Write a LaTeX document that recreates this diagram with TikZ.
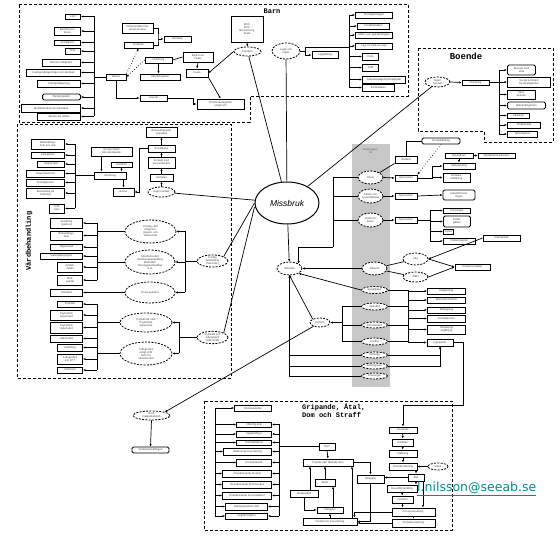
\documentclass[tikz,border=0pt]{standalone}
\usepackage{fontspec}
\setmainfont{Liberation Sans}
\newfontfamily\monofont{Liberation Mono}
\newfontfamily\mailfont{DejaVu Sans}
\usepackage{xcolor}
\usetikzlibrary{arrows.meta,positioning,calc,shapes.geometric}
\definecolor{mailcol}{RGB}{0,140,140}
\newcommand\boxfont{\fontsize{2.7}{3}\selectfont}

\begin{document}
\begin{tikzpicture}[x=1pt,y=-1pt,>={Latex[length=2.4pt,width=2.2pt]},
  bx/.style={draw, line width=0.95pt, inner sep=0.2pt, font=\boxfont, text=black!75, align=center},
  del/.style={draw, ellipse, fill=white, dash pattern=on 2pt off 1.3pt, line width=0.8pt, inner sep=0pt, font=\boxfont, text=black!75, align=center},
  frm/.style={dash pattern=on 3pt off 2pt, line width=0.9pt},
  ln/.style={line width=0.7pt},
  ttl/.style={font=\monofont\bfseries\fontsize{7}{8}\selectfont}]
  \useasboundingbox (0,0) rectangle (560,545);

  % frames
  \draw[frm] (19,4) -- (408,4) -- (408,96) -- (250,96) -- (250,122) -- (19,122) -- cycle;
  \draw[frm] (418,48) -- (553,48) -- (553,142) -- (484,142) -- (484,131) -- (418,131) -- cycle;
  \draw[frm] (17,124) rectangle (231,378);
  \draw[frm] (204,401) rectangle (452,530);
  \fill[black!22] (352,144) rectangle (390,387);

  \node[ttl] (barnT) at (272,11) {Barn};
  \node[ttl, font=\monofont\bfseries\fontsize{9}{10}\selectfont] (boendeT) at (466,56) {Boende};
  \node[ttl, rotate=90] (vardT) at (29,241) {Vårdbehandling};
  \node[ttl, anchor=north west, align=left, inner sep=0pt] (gripT) at (302,404) {Gripande, Åtal,\\Dom och Straff};
  \node[font=\boxfont, text=black!60, align=center] (foreT) at (370.5,151) {Förebyggan-\\de};

  % center
  \node[draw, ellipse, line width=1pt, minimum width=64, minimum height=42,
        font=\itshape\fontsize{8.5}{10}\selectfont] (miss) at (287,203) {Missbruk};

  % ---- Barn
  \coordinate (blbus) at (94,16.5);
  \draw[ln] (blbus) -- (94,116.5);
  \foreach \n/\y/\w/\h/\r/\t in {1/16.5/15/5/0/LVU, 2/31/26/8/0/{Barnkonven-\\tionen},
      3/42.5/26/5/0/Socialtjänst, 4/51/15/6/0/HSL, 5/62.5/38/7/0/Barnets rättigheter,
      6/72.5/54/7/0/Familjerättsliga frågor och vårdnad, 7/83.5/43/7/0/Familjerådgivning,
      8/97/38/6/1.5/Barnpsykiatrin, 9/108/59/8/0/Skolhälsovård och elevhälsa,
      10/116.5/43/7/0/Skolsocialt arbete}
  {\node[bx, rounded corners=\r, anchor=east, minimum width=\w, minimum height=\h] (bl\n) at (81,\y) {\t};
   \draw[ln,->] (blbus |- bl\n.east) -- (bl\n.east);}

  \node[bx, minimum width=20, minimum height=6] (barnet) at (116,77) {Barnet};
  \draw[ln] (blbus |- barnet.west) -- (barnet.west);
  \node[bx, minimum width=31, minimum height=10] (oros) at (137.5,28) {Orosanmälan från\\annan instans};
  \node[bx, minimum width=29, minimum height=6] (ansok) at (138.5,45) {Ansökan};
  \node[bx, minimum width=27, minimum height=6] (anm) at (177.5,39) {Anmälan};
  \coordinate (bbr) at (158,39);
  \draw[ln] (oros.east) -| (bbr) |- (ansok.east);
  \draw[ln,->] (bbr) -- (anm.west);
  \node[bx, minimum width=27, minimum height=6] (utr) at (158.5,60) {Utredning};
  \node[bx, minimum width=40, minimum height=6] (utrplan) at (160,77) {Utredningsplan};
  \draw[ln,->] (utr.south) -- (utr.south |- utrplan.north);
  \draw[ln,dotted,->] (barnet.north east) -- (ansok.south);
  \draw[ln,dotted,->] (utr.west) -- (barnet.east);
  \node[bx, minimum width=30, minimum height=10] (beslut) at (198,57) {Beslut om\\insats};
  \draw[ln] (utr.east) -- (beslut.west);
  \node[bx, minimum width=22, minimum height=8] (insats) at (197,73) {Insats};
  \draw[ln,->] (beslut.south) -- (insats.north);
  \node[bx, minimum width=27, minimum height=6] (journal) at (153.5,98) {Journal};
  \draw[ln,->] (barnet.south) |- (journal.west);
  \node[bx, minimum width=47, minimum height=10] (omh) at (220.5,104) {Omhändertagande\\enligt LVU};
  \draw[ln,->] (journal.east) -- ++(26,0) |- (omh.west);
  \draw[ln,->] (insats.south east) -- (omh.north);
  \node[bx, minimum width=32, minimum height=26] (mvc) at (247,29) {MVC\\BVC\\Barnomsorg\\Skola};
  \node[del, minimum width=27, minimum height=9] (e1) at (247.5,51.5) {Familjen};
  \draw[ln,->] (mvc.south) -- (e1.north);
  \draw[ln,->] (e1.west) -- (insats.east);
  \node[del, minimum width=28, minimum height=16] (e2) at (286,51) {Lagar och\\regler};
  \node[bx, minimum width=26, minimum height=7] (lag) at (325,55) {Lagstiftning};
  \coordinate (brbus) at (349,15);
  \draw[ln] (brbus) -- (349,88);
  \coordinate (e2r) at (305,51);
  \draw[ln] (e2.east) -- (e2r) (305,47) -- (305,55);
  \draw[ln] (305,47) -- (brbus |- 0,47);
  \draw[ln,->] (305,55) -- (lag.west);
  \foreach \n/\x/\y/\w/\h/\t in {1/355/15/37/6/Socialtjänstlagen, 2/357/26/32/6/Föräldrabalken,
      3/355/35/37/6/Hälso- och sjukvårdslagen, 4/355/46/37/6/Lag om vård av unga,
      5/362/56.5/16/7/Polis, 6/362/67.5/16/7/LVM, 7/362/79.5/43/7/{Sekretesslagen/tystnadsplikt},
      8/362/87.5/32/7/Brottsbalken}
  {\node[bx, anchor=west, minimum width=\w, minimum height=\h] (br\n) at (\x,\y) {\t};
   \draw[ln,->] (brbus |- br\n.west) -- (br\n.west);}
  \draw[ln] (e1) -- (miss);
  \draw[ln] (e2) -- (miss);

  % ---- Boende
  \node[del, minimum width=25, minimum height=10] (boe) at (437.5,82) {Ingen\\bostad};
  \node[bx, minimum width=27, minimum height=5] (boutr) at (475.5,82.5) {Utredning};
  \coordinate (bobus) at (499,70);
  \draw[ln] (bobus) -- (499,134);
  \draw[ln,->] (boe.east) -- (boutr.west);
  \draw[ln] (boutr.east) -- (bobus |- boutr.east);
  \foreach \n/\y/\w/\h/\r/\t in {1/70/28/10/1.5/{Boende med\\stöd}, 2/82/43/10/0/{Socialt kontrakt/\\försökslägenhet},
      3/94.5/28/9/0/{Akut-\\boende}, 4/105.5/38/7/1.5/Behandlingshem, 5/115.5/22/5/0/Härbärge,
      6/125/33/6/0/Stödboende, 7/134/30/6/0/Halvvägshus}
  {\node[bx, rounded corners=\r, anchor=west, minimum width=\w, minimum height=\h] (bo\n) at (507,\y) {\t};
   \draw[ln,->] (bobus |- bo\n.west) -- (bo\n.west);}
  \draw[ln] (miss) -- (boe);
  \node[bx, rounded corners=1.5, minimum width=38, minimum height=6] (bidrag) at (441,141) {Bostadsbidrag};
  \node[bx, minimum width=22, minimum height=7] (bist) at (406,159.5) {Bistånd};
  \draw[ln] (bidrag.west) -| (bist.north);

  % ---- Förebyggande
  \node[del, minimum width=25, minimum height=13] (fsk) at (370.5,177.5) {Skola};
  \node[del, minimum width=25, minimum height=14] (farb) at (370.5,196) {Arbete och\\sysselsättning};
  \node[del, minimum width=25, minimum height=14] (ffri) at (370.5,220) {Fritid och\\kultur};
  \node[del, minimum width=25, minimum height=13] (indiv) at (289.5,268.5) {Individen};
  \draw[ln,->] (miss) -- (indiv);
  \draw[ln] (333,177.5) -- (333,247);
  \draw[ln,->] (333,247) -| (indiv.north east);
  \foreach \e in {fsk,farb,ffri} \draw[ln] (333,0 |- \e.west) -- (\e.west);
  \draw[ln] (bist.south west) -- (fsk.north east);
  \foreach \n/\e/\y in {1/fsk/178, 2/farb/196, 3/ffri/220}
  {\node[bx, minimum width=22, minimum height=6] (fs\n) at (406,\y) {Samverkan};
   \draw[ln,->] (\e.east) -- (fs\n.west);}
  \node[bx, minimum width=28, minimum height=5] (fe1) at (459,155.5) {Elevhälsan};
  \node[bx, minimum width=37, minimum height=5] (fe4) at (496.5,155.5) {Skolsköterska/kurator};
  \node[bx, minimum width=32, minimum height=6] (fe2) at (459,166) {Skolpsykolog};
  \node[bx, minimum width=27, minimum height=9] (fe3) at (456.5,177.5) {Föräldra-\\utbildning};
  \draw[ln,->] (fe1.east) -- (fe4.west);
  \draw[ln,->] (fe1.south) -- (fe2.north);
  \draw[ln] (fs1.east) -- (432,178) -- (432,166);
  \draw[ln,->] (432,166) -- (fe2.west);
  \draw[ln,->] (432,177.5) -- (fe3.west);
  \draw[ln,dotted,->] (bidrag.south) -- (fs1.north east);
  \node[bx, rounded corners=1.5, minimum width=32, minimum height=10] (fa1) at (459,195) {Arbetsförmed-\\lingen};
  \draw[ln,->] (fs2.east) -- (fa1.west);
  \draw[ln] (fs3.east) -- (430,220) (430,210.5) -- (430,241);
  \foreach \n/\y/\w/\h/\r/\t in {1/210.5/27/5/0/Föreningar, 2/221.5/27/11/1.5/{Fritids-\\gårdar},
      3/231.5/10/5/0/Kyrka, 4/241/32/6/0/Fältassistenter}
  {\node[bx, rounded corners=\r, anchor=west, minimum width=\w, minimum height=\h] (fk\n) at (443,\y) {\t};
   \draw[ln,->] (430,0 |- fk\n.west) -- (fk\n.west);}
  \node[bx, minimum width=37, minimum height=6] (kamrat) at (501.5,238) {Kamratstöd};
  \node[del, minimum width=25, minimum height=13] (fnat) at (374.5,268.5) {Nätverk};
  \node[del, minimum width=25, minimum height=12] (van) at (415.5,259) {Vän};
  \node[del, minimum width=25, minimum height=10] (slakt) at (415.5,277) {Släkt};
  \node[bx, minimum width=35, minimum height=6] (privat) at (472.5,267) {Privata kontakter};
  \draw[ln] (fnat) -- (van);
  \draw[ln] (fnat) -- (slakt);
  \draw[ln,->] (kamrat.west) -- (van.east);
  \draw[ln,->] (van.east) -- (privat.west);
  \draw[ln,->] (slakt.east) -- (privat.west);
  \draw[ln,->] (fnat.west) -- (indiv.east);
  \foreach \n/\y/\h/\t in {soc/290/7/Socialtjänst, 2/306.5/7/Sjukvård, 3/325/6/Kriminalvård,
      4/341.5/7/Frivård, 5/355/6/Anhöriga, 6/366/6/Arbetsgivare, 7/376/6/Föreningar}
    \node[del, minimum width=26, minimum height=\h] (f\n) at (374.5,\y) {\t};
  \draw[ln,->] (fsoc.west) -- (indiv.south east);
  \coordinate (fbus) at (408,290);
  \draw[ln] (fbus) -- (408,342.5);
  \foreach \e in {fsoc,f2,f3,f4} \draw[ln] (\e.east) -- (fbus |- \e.east);
  \foreach \n/\y/\h/\t in {1/291/6/Rådgivning, 2/300/6/Motivationsarbete, 3/310/6/Mottagning,
      4/318.5/7/Kontaktperson, 5/329.5/9/{Tillnyktring/\\avgiftning}}
  {\node[bx, anchor=west, minimum width=38, minimum height=\h] (fb\n) at (427,\y) {\t};
   \draw[ln,->] (fbus |- fb\n.west) -- (fb\n.west);}
  \node[bx, minimum width=26, minimum height=7] (fpol) at (440,342.5) {Ingripande};
  \draw[ln,->] (fbus |- fpol.west) -- (fpol.west);
  \node[del, minimum width=20, minimum height=9] (pol) at (320,322.5) {Polisen};
  \draw[ln] (342,306.5) -- (342,341.5);
  \draw[ln,->] (342,322.5) -- (pol.east);
  \foreach \e in {f2,f3,f4} \draw[ln] (342,0 |- \e.west) -- (\e.west);
  \draw[ln,->] (pol.north west) -- (indiv.south);
  \draw[ln,->] (f5.west) -| (indiv.south);
  \draw[ln] (f6.west) -| (indiv.south);
  \draw[ln] (f7.west) -| (indiv.south);
  \draw[ln,->] (f5.east) -| (fpol.south);
  \draw[ln] (f6.east) -| (fpol.south);

  % ---- Vårdbehandling
  \coordinate (vlbus) at (75,144);
  \draw[ln] (vlbus) -- (75,208.5);
  \foreach \n/\y/\w/\h/\t in {1/144/33/10/{Behandlings-\\hem enl. SoL}, 2/155/33/6/Familjehem,
      3/164/27/6/Öppenvård, 4/173.5/38/7/Dagverksamhet, 5/182.5/38/7/Kontaktperson,
      6/193/38/10/{Behandling på\\institution}, 7/208.5/15/9/{LVM-\\hem}}
  {\node[bx, anchor=east, minimum width=\w, minimum height=\h] (vl\n) at (65,\y) {\t};
   \draw[ln,->] (vlbus |- vl\n.east) -- (vl\n.east);}
  \node[bx, minimum width=32, minimum height=7] (vutr) at (110,175.5) {Utredning};
  \draw[ln] (vlbus |- vutr.west) -- (vutr.west);
  \node[bx, minimum width=41, minimum height=9] (voros) at (111.5,151.5) {Orosanmälan\\från närstående};
  \node[bx, minimum width=21, minimum height=5] (vans) at (121.5,164.5) {Ansökan};
  \draw[ln,->] ([xshift=-10pt]voros.south) -- ([xshift=-10pt]voros.south |- vutr.north);
  \draw[ln,->] (vans.south) -- (vans.south |- vutr.north);
  \node[bx, minimum width=21, minimum height=8] (vbes) at (123.5,192) {Beslut};
  \draw[ln,->] (vbes.north |- vutr.south) -- (vbes.north);
  \node[bx, minimum width=31, minimum height=10] (vk1) at (161.5,132) {Behandlingsplan\\upprättas};
  \node[bx, minimum width=27, minimum height=7] (vk2) at (161.5,148.5) {Socialtjänst};
  \node[bx, minimum width=27, minimum height=11] (vk3) at (161.5,162.5) {Kontakt med\\beroendevård};
  \node[bx, minimum width=23, minimum height=7] (vk4) at (161.5,177.5) {Anmälan};
  \node[del, minimum width=27, minimum height=10] (vke) at (161.5,192) {Egen kontakt};
  \draw[ln,->] (vke) -- (vk4);
  \draw[ln,->] (vk4) -- (vk3);
  \draw[ln,->] (vk3) -- (vk2);
  \draw[ln,->] (vk2) -- (vk1);
  \draw[ln,->] (vk2.west) -- (139,148.5) |- (vbes.east);
  \draw[ln] (vke) -- (miss);

  \coordinate (vmbus) at (97,223);
  \draw[ln] (vmbus) -- (97,280);
  \foreach \n/\y/\w/\h/\t in {1/223/32/10/{Avgiftning\\(sjukhus)}, 2/235.5/32/9/{Behandlings-\\hem},
      3/247/32/6/Öppenvård, 4/256/42/6/Självhjälpsgrupper, 5/267/25/10/{AA/NA-\\möten},
      6/280/25/10/{Stöd-\\samtal}}
  {\node[bx, anchor=east, minimum width=\w, minimum height=\h] (vm\n) at (83,\y) {\t};
   \draw[ln,->] (vmbus |- vm\n.east) -- (vm\n.east);}
  \node[bx, anchor=east, minimum width=32, minimum height=7] (vm7) at (83,292.5) {Tandvård};
  \coordinate (vnbus) at (97,304);
  \draw[ln] (vnbus) -- (97,370);
  \foreach \n/\y/\w/\h/\t in {1/304/25/6/Psykiatri, 2/315/32/10/{Psykiatrisk\\öppenvård},
      3/327.5/32/11/{Psykiatrisk\\slutenvård}, 4/338.5/32/7/Läkemedel, 5/347.5/25/7/Avgiftning,
      6/359/25/10/{Tvångsvård\\enl. LPT}, 7/370/25/6/LVM-hem}
  {\node[bx, anchor=east, minimum width=\w, minimum height=\h] (vn\n) at (83,\y) {\t};
   \draw[ln,->] (vnbus |- vn\n.east) -- (vn\n.east);}
  \node[del, minimum width=51, minimum height=23] (vA) at (150.5,231.5) {Frivillig vård\\enligt SoL\\(öppen- och\\slutenvård)};
  \node[del, minimum width=50, minimum height=24] (vB) at (150,262) {Missbruksvård\\Abstinensbehandling\\Motivation\\Tolvstegsbehandling\\m.m.};
  \node[del, minimum width=50, minimum height=21] (vC) at (150,292.5) {Övrig sjukvård};
  \node[del, minimum width=52, minimum height=19] (vD) at (146,322.5) {Psykiatrisk vård\\Psykiatrisk\\öppenvård};
  \node[del, minimum width=52, minimum height=23] (vE) at (146,353.5) {Tvångsvård\\enligt LVM\\Hem för\\särskild vård};
  \node[del, minimum width=31, minimum height=12] (vF) at (212.5,261) {Frivillig\\behandling\\(SoL/HSL)};
  \node[del, minimum width=31, minimum height=11] (vG) at (212.5,337.5) {Sjukvård och\\tvångsvård\\(HSL/LVM)};
  \draw[ln] (vmbus |- vA.west) -- (vA.west);
  \draw[ln] (vmbus |- vB.west) -- (vB.west);
  \draw[ln,->] (vC.west) -- (vm7.east);
  \draw[ln] (vnbus |- vD.west) -- (vD.west);
  \draw[ln] (vnbus |- vE.west) -- (vE.west);
  \draw[ln] (185,231.5) -- (185,292.5);
  \foreach \e in {vA,vB,vC} \draw[ln,->] (185,0 |- \e.east) -- (\e.east);
  \draw[ln] (vF.west) -- (185,0 |- vF.west);
  \draw[ln] (179,322.5) -- (179,353.5);
  \foreach \e in {vD,vE} \draw[ln,->] (179,0 |- \e.east) -- (\e.east);
  \draw[ln] (vG.west) -- (179,0 |- vG.west);
  \draw[ln] (miss.west) -- (vF.north east);
  \draw[ln] ([yshift=-4pt]miss.west) -- (vG.north east);

  % ---- Gripande
  \node[del, minimum width=37, minimum height=9] (gbrott) at (151.5,415.5) {Brott\\(narkotikabrott)};
  \node[bx, rounded corners=1.5, minimum width=37, minimum height=6] (glag) at (150.5,450) {Narkotikastrafflagen};
  \draw[ln,->] (gbrott.south) -- (glag.north);
  \draw[ln,->] (pol) -- (gbrott.north east);
  \coordinate (glbus) at (215,408);
  \draw[ln] (glbus) -- (215,516);
  \coordinate (grbus) at (279,424.5);
  \draw[ln] (grbus) -- (279,516);
  \foreach \n/\x/\y/\w/\h/\t in {1/272/408/37/6/Kriminalvården, 2/272/424.5/35/5/Villkorlig dom,
      3/272/434/35/6/Skyddstillsyn, 4/272/442.5/35/5/Samhällstjänst,
      5/272/451.5/48/7/Elektronisk övervakning, 6/272/462.5/35/7/Kontraktsvård,
      7/272/473.5/49/7/Överlämnande till vård, 8/272/484.5/49/7/Överlämnande till LVM-vård,
      9/272/495.5/49/7/Överlämnande till socialtjänst, 10/268/506.5/42/7/Rättspsykiatrisk vård,
      11/268/516/42/6/Ungdomstjänst}
  {\node[bx, anchor=east, minimum width=\w, minimum height=\h] (gl\n) at (\x,\y) {\t};
   \draw[ln,->] (glbus |- gl\n.west) -- (gl\n.west);}
  \foreach \n in {2,...,11} \draw[ln,->] (grbus |- gl\n.east) -- (gl\n.east);
  \node[bx, minimum width=16, minimum height=7] (gdom) at (327,446.5) {Dom};
  \draw[ln] (grbus |- gdom.west) -- (gdom.west);
  \node[bx, minimum width=50, minimum height=7] (gfria) at (328,462.5) {Friande eller fällande dom};
  \draw[ln,->] (gdom.south) -- (gfria.north);
  \node[bx, minimum width=20, minimum height=7] (gbot) at (325,482.5) {Böter};
  \node[bx, minimum width=28, minimum height=7] (gskad) at (304,493.5) {Skadestånd};
  \node[bx, minimum width=26, minimum height=6] (gfang) at (330,510) {Fängelse};
  \node[bx, minimum width=54, minimum height=7] (gfriv) at (330,521.5) {Frivård och övervakning};
  \draw[ln,->] (gbot.north) -- (gbot.north |- gfria.south);
  \draw[ln,->] ([xshift=6pt]gskad.north) -- ([xshift=6pt]gskad.north |- gfria.south);
  \draw[ln,->] ([xshift=3pt]gfang.north) -- ([xshift=3pt]gfang.north |- gbot.south);
  \draw[ln,->] (gskad.south) |- (gfang.west);
  \draw[ln,->] (gfriv.north) -- (gfang.south);
  \draw[ln,->] ([xshift=22pt]gfriv.north) -- ([xshift=22pt]gfriv.north |- gfria.south);
  \node[bx, minimum width=27, minimum height=8] (gakl) at (370.5,479) {Åklagare};
  \draw[ln,->] (gfria.east) -| (gakl.north);
  \draw[ln,->] (gakl.south) |- (gfriv.east);
  \foreach \n/\x/\y/\w/\h/\t in {1/403/430/28/6/Gripande, 2/402.5/442.5/21/7/Anhållan,
      3/403/453.5/28/7/Häktning, 4/403/466.5/28/7/Förundersökning, 5/402/488.5/30/7/Huvudförhandling,
      6/402.5/499.5/21/7/Domstol, 7/413.5/512/43/8/Personutredning, 8/413.5/523/43/8/Frivårdsutredning}
    \node[bx, minimum width=\w, minimum height=\h] (gc\n) at (\x,\y) {\t};
  \node[del, minimum width=20, minimum height=7] (gvit) at (438,466.5) {Vittne};
  \node[bx, minimum width=16, minimum height=7] (gatal) at (416,477.5) {Åtal};
  \draw[ln,->] (gc1) -- (gc2);
  \draw[ln,->] (gc2) -- (gc3);
  \draw[ln,->] (gc3) -- (gc4);
  \draw[ln,->] (gvit.west) -- (gc4.east);
  \draw[ln,->] (gatal.north |- gc4.south) -- (gatal.north);
  \draw[ln,->] (gatal.west) -- (gatal.west -| gakl.east);
  \draw[ln,->] (gatal.south) -- (gatal.south |- gc5.north);
  \draw[ln,->] (gc5) -- (gc6);
  \draw[ln,->] (gc6.south) -- (gc6.south |- gc7.north);
  \draw[ln,->] ([xshift=7pt]gatal.south) -- ([xshift=7pt]gatal.south |- gc7.north);
  \draw[ln,->] (gc7) -- (gc8);
  \draw[ln,->] (gc7.west) -| ([xshift=-3pt]gfriv.north east);
  \draw[ln,->] (gc8.west) -- (gc8.west -| gfriv.east);
  \draw[ln,->] (fpol.east) -- (463,342.5) -- (463,405) -| (gc1.north);

  % mail
  \node[anchor=west, inner sep=0pt, text=mailcol, font=\mailfont\fontsize{12.5}{14}\selectfont] (mail) at (417,488) {l.nilsson@seeab.se};
  \draw[mailcol, line width=0.7pt] ([yshift=-1.5pt]mail.south west) -- ([yshift=-1.5pt]mail.south east);
\end{tikzpicture}
\end{document}
